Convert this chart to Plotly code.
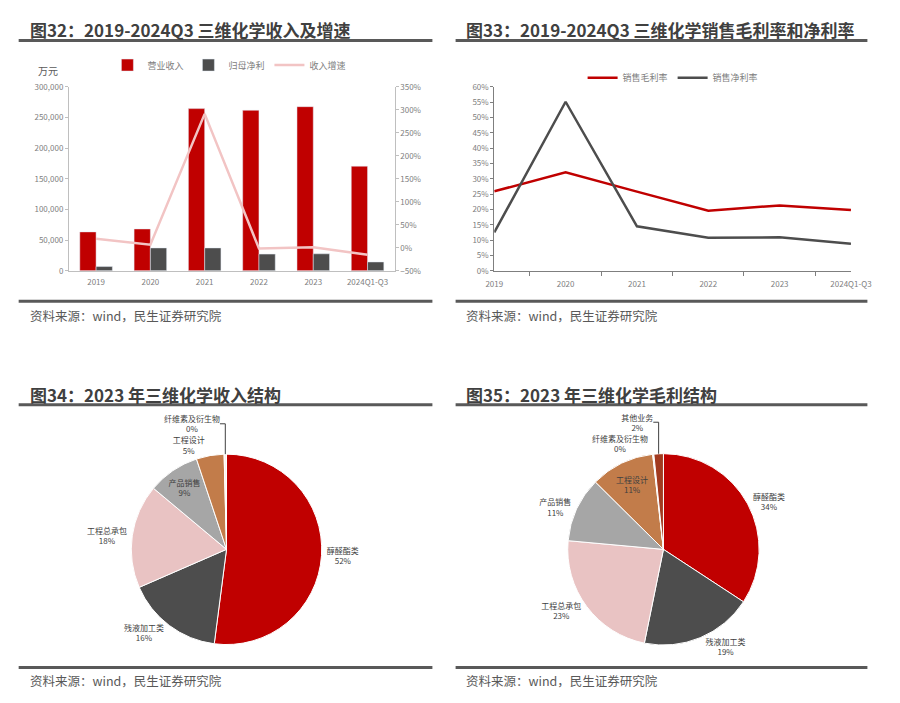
import plotly.graph_objects as go

W, H = 900, 703

# ---------------- data ----------------
years = ["2019", "2020", "2021", "2022", "2023", "2024Q1-Q3"]
revenue = [63400, 68200, 264300, 261600, 267500, 170500]          # 万元
net_profit = [6900, 37300, 37300, 27200, 27700, 14400]            # 万元
rev_growth = [19.6, 6.8, 291.0, -1.7, 1.2, -15.2]                  # %

gross_margin = [25.9, 32.1, 25.8, 19.6, 21.3, 19.8]                # %
net_margin = [12.5, 55.1, 14.5, 10.8, 10.9, 8.8]                   # %

rev_labels = ["醇醛酯类", "残液加工类", "工程总承包", "产品销售", "工程设计", "纤维素及衍生物"]
rev_share = [52.0, 16.4, 17.6, 8.8, 4.7, 0.4]

gp_labels = ["醇醛酯类", "残液加工类", "工程总承包", "产品销售", "工程设计", "纤维素及衍生物", "其他业务"]
gp_share = [34.3, 19.0, 23.3, 11.0, 10.8, 0.2, 1.6]

titles = ["图32：2019-2024Q3 三维化学收入及增速",
          "图33：2019-2024Q3 三维化学销售毛利率和净利率",
          "图34：2023 年三维化学收入结构",
          "图35：2023 年三维化学毛利结构"]
source = "资料来源：wind，民生证券研究院"

# ---------------- styles ----------------
RED = "#C00000"
DARK = "#4D4D4D"
PINK = "#F2C4C4"
PIE_PINK = "#E9C3C3"
GRAY = "#A6A6A6"
BROWN = "#C27C4A"
CREAM = "#FBF3EE"
OTHER = "#A23A1F"
FONT = "Noto Sans CJK SC"
TXT = "#595959"
AX = "#BFBFBF"


def px(x):
    return x / W


def py(y):
    return 1 - y / H


fig = go.Figure()

# ---- top-left: bars + growth line ----
fig.add_trace(go.Bar(x=years, y=revenue, name="营业收入", marker_color=RED,
                     xaxis="x", yaxis="y", legend="legend"))
fig.add_trace(go.Bar(x=years, y=net_profit, name="归母净利", marker_color=DARK,
                     xaxis="x", yaxis="y", legend="legend"))
fig.add_trace(go.Scatter(x=years, y=rev_growth, name="收入增速", mode="lines",
                         line=dict(color=PINK, width=2.5),
                         xaxis="x", yaxis="y2", legend="legend"))

# ---- top-right: margins ----
fig.add_trace(go.Scatter(x=years, y=gross_margin, name="销售毛利率", mode="lines",
                         line=dict(color=RED, width=2.5),
                         xaxis="x3", yaxis="y3", legend="legend2"))
fig.add_trace(go.Scatter(x=years, y=net_margin, name="销售净利率", mode="lines",
                         line=dict(color=DARK, width=2.5),
                         xaxis="x3", yaxis="y3", legend="legend2"))

# ---- pies ----
def pie_domain(cx, cy, r):
    return dict(x=[px(cx - r), px(cx + r)], y=[py(cy + r), py(cy - r)])


fig.add_trace(go.Pie(
    labels=rev_labels, values=rev_share, sort=False, direction="clockwise",
    rotation=0, domain=pie_domain(225, 552, 98.5),
    marker=dict(colors=[RED, DARK, PIE_PINK, GRAY, BROWN, CREAM],
                line=dict(color="white", width=1)),
    texttemplate="%{label}<br>%{percent:.0%}",
    textposition=["outside", "outside", "outside", "inside", "outside", "outside"],
    textfont=dict(size=8, color="#404040", family=FONT),
    insidetextorientation="horizontal",
    showlegend=False, hoverinfo="label+percent"))

fig.add_trace(go.Pie(
    labels=gp_labels, values=gp_share, sort=False, direction="clockwise",
    rotation=0, domain=pie_domain(677, 552, 99),
    marker=dict(colors=[RED, DARK, PIE_PINK, GRAY, BROWN, CREAM, OTHER],
                line=dict(color="white", width=1)),
    texttemplate="%{label}<br>%{percent:.0%}",
    textposition=["outside", "outside", "outside", "outside", "inside", "outside", "outside"],
    textfont=dict(size=8, color="#404040", family=FONT),
    insidetextorientation="horizontal",
    showlegend=False, hoverinfo="label+percent"))

tickfont = dict(size=8, color="#808080", family=FONT)

fig.update_layout(
    width=W, height=H, margin=dict(l=0, r=0, t=0, b=0),
    paper_bgcolor="white", plot_bgcolor="white",
    font=dict(family=FONT, color=TXT),
    barmode="group", bargap=0.4, bargroupgap=0,
    xaxis=dict(domain=[px(62), px(399)], anchor="y", type="category",
               showline=True, linecolor=AX, linewidth=1, ticks="",
               ticklabelstandoff=4,
               tickfont=tickfont, showgrid=False, fixedrange=True),
    yaxis=dict(domain=[py(269), py(82)], anchor="x", range=[0, 300000], dtick=50000,
               tickformat=",", showline=True, linecolor=AX, ticks="outside",
               ticklen=3, tickcolor=AX, tickfont=tickfont, showgrid=False,
               zeroline=False),
    yaxis2=dict(overlaying="y", side="right", anchor="x", range=[-50, 350], dtick=50,
                ticksuffix="%", showline=True, linecolor=AX, ticks="outside",
                ticklen=3, tickcolor=AX, tickfont=tickfont, showgrid=False,
                zeroline=False),
    xaxis3=dict(domain=[px(502), px(871)], anchor="y3", type="category",
                showline=True, linecolor="#7F7F7F", ticks="outside", ticklen=4,
                tickcolor="#7F7F7F", tickson="boundaries", ticklabelstandoff=6,
                tickfont=tickfont, showgrid=False),
    yaxis3=dict(domain=[py(269), py(82)], anchor="x3", range=[0, 60], dtick=5,
                ticksuffix="%", showline=True, linecolor="#7F7F7F", ticks="outside",
                ticklen=3, tickcolor="#7F7F7F", tickfont=tickfont, showgrid=False,
                zeroline=False),
    legend=dict(orientation="h", x=px(228), y=py(60), xanchor="center", yanchor="middle",
                font=dict(size=9, color="#808080", family=FONT), bgcolor="rgba(0,0,0,0)",
                itemwidth=30, tracegroupgap=0),
    legend2=dict(orientation="h", x=px(687), y=py(73), xanchor="center", yanchor="middle",
                 font=dict(size=9, color="#808080", family=FONT), bgcolor="rgba(0,0,0,0)",
                 itemwidth=30),
)

# titles, rules, sources
title_pos = [(20, 24), (471, 24), (20, 395), (471, 395)]
rule_x = [(10, 438), (462, 888), (10, 438), (462, 888)]
title_rule_y = [35, 35, 405, 405]
src_rule_y = [300, 300, 672, 672]
src_y = [314, 314, 685, 685]

shapes = []
annotations = []
for i in range(4):
    tx, ty = title_pos[i]
    annotations.append(dict(text="<b>%s</b>" % titles[i], x=px(tx), y=py(ty), xref="paper",
                            yref="paper", xanchor="left", yanchor="middle", showarrow=False,
                            font=dict(size=17, color="#404040", family=FONT)))
    x0, x1 = rule_x[i]
    shapes.append(dict(type="line", xref="paper", yref="paper", x0=px(x0), x1=px(x1),
                       y0=py(title_rule_y[i]), y1=py(title_rule_y[i]),
                       line=dict(color="#595959", width=3)))
    shapes.append(dict(type="line", xref="paper", yref="paper", x0=px(x0), x1=px(x1),
                       y0=py(src_rule_y[i]), y1=py(src_rule_y[i]),
                       line=dict(color="#595959", width=3)))
    annotations.append(dict(text=source, x=px(tx), y=py(src_y[i]), xref="paper",
                            yref="paper", xanchor="left", yanchor="middle", showarrow=False,
                            font=dict(size=12.5, color="#595959", family=FONT)))

annotations.append(dict(text="万元", x=px(28), y=py(66), xref="paper", yref="paper",
                        xanchor="left", yanchor="middle", showarrow=False,
                        font=dict(size=10, color="#595959", family=FONT)))

fig.update_layout(shapes=shapes, annotations=annotations)

fig.write_html("out.html")
